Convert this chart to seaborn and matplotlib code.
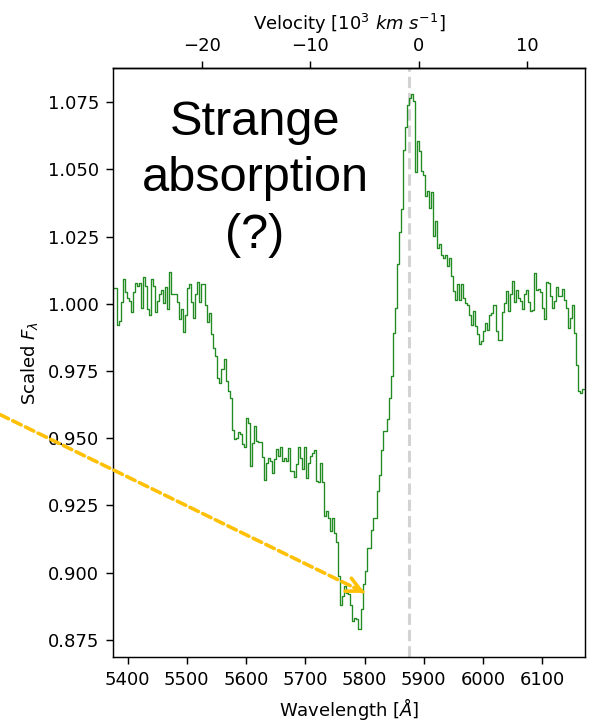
import numpy as np
import pandas as pd
import matplotlib
matplotlib.use("Agg")
import matplotlib.pyplot as plt
import seaborn as sns

# ---- data ----
WAVE_START = 5375.0      # Å, left edge of first bin
WAVE_STEP = 3.4          # Å per bin
flux = [
    1.006, 1.006, 0.992, 0.9935, 1.0006, 1.0093, 1.0043, 1.0022, 1.001, 0.9969,
    1.0043, 1.0078, 1.0066, 1.0078, 0.9985, 1.010, 1.0066, 0.9979, 0.996, 1.0093,
    1.0066, 0.9969, 1.001, 1.0035, 1.0053, 1.0004, 1.0063, 0.9981, 1.0118, 1.0035,
    1.0035, 1.0035, 1.0006, 0.9942, 0.9981, 0.9894, 0.996, 1.006, 1.0072, 1.0006,
    0.9948, 1.0035, 1.008, 1.0006, 1.0072, 1.0072, 0.9997, 0.9932, 0.9967, 0.9886,
    0.9836, 0.9805, 0.9725, 0.9706, 0.9756, 0.9793, 0.9712, 0.9675, 0.965, 0.9532,
    0.9498, 0.950, 0.9522, 0.9517, 0.9477, 0.9468, 0.9576, 0.9557, 0.9396, 0.9483,
    0.9545, 0.9489, 0.9485, 0.9485, 0.9431, 0.9344, 0.9408, 0.9427, 0.9414, 0.9371,
    0.9421, 0.9461, 0.9433, 0.9468, 0.9414, 0.9427, 0.9414, 0.9464, 0.9377, 0.9377,
    0.9356, 0.9406, 0.9468, 0.9427, 0.9386, 0.9468, 0.9353, 0.9408, 0.9433, 0.9446,
    0.9455, 0.934, 0.9336, 0.9408, 0.9336, 0.921, 0.9228, 0.9204, 0.9154, 0.9204,
    0.9148, 0.9113, 0.8987, 0.8881, 0.8912, 0.8949, 0.8925, 0.8919, 0.8881, 0.8819,
    0.8832, 0.8826, 0.8791, 0.8863, 0.8956, 0.9005, 0.9092, 0.9092, 0.916, 0.9204,
    0.9204, 0.9303, 0.9365, 0.9458, 0.9526, 0.9526, 0.957, 0.965, 0.9731, 0.9892,
    0.9985, 1.015, 1.0269, 1.0351, 1.0574, 1.0656, 1.0741, 1.0765, 1.0779, 1.0754,
    1.049, 1.0605, 1.0568, 1.0493, 1.0481, 1.040, 1.0421, 1.0357, 1.0417, 1.0251,
    1.0307, 1.0208, 1.0221, 1.0183, 1.0171, 1.0183, 1.014, 1.0171, 1.0103, 1.0047,
    1.0016, 1.0072, 1.0016, 1.0072, 1.0022, 1.0004, 0.9997, 0.996, 0.9923, 0.9972,
    0.9917, 0.9886, 0.9849, 0.9861, 0.9898, 0.9929, 0.9904, 0.996, 0.9967, 0.9997,
    0.9898, 0.9867, 0.9867, 0.9969, 1.0004, 1.0047, 0.9972, 1.0035, 1.0084, 1.0006,
    1.0053, 1.0022, 1.001, 0.9979, 1.0035, 1.0053, 1.0006, 0.9972, 0.9976, 1.0113,
    1.0053, 1.0056, 1.0043, 0.9985, 0.9944, 1.008, 1.0076, 1.0028, 0.9985, 1.001,
    1.0063, 1.0031, 1.0031, 1.0056, 1.0016, 0.9985, 0.9911, 0.9948, 0.9994, 0.9892,
    0.9774, 0.9675, 0.9669, 0.9684,
]
HE_LINE = 5875.0                 # Å, dashed reference line
VEL_ZERO = 5891.6                # Å at zero velocity
VEL_SCALE = 18.3                 # Å per 10^3 km/s
x_ticks = [5400, 5500, 5600, 5700, 5800, 5900, 6000, 6100]
y_ticks = [0.875, 0.900, 0.925, 0.950, 0.975, 1.000, 1.025, 1.050, 1.075]
vel_ticks = [-20, -10, 0, 10]
x_limits = (5375, 6172)
y_limits = (0.8685, 1.0876)
note_text = "Strange\nabsorption\n(?)"
note_pos = (5615, 1.0465)
arrow_tip = (5800.5, 0.8925)
arrow_tail = (5185, 0.9588)

# ---- style ----
sns.set_style("ticks", {"axes.edgecolor": "black", "xtick.color": "black",
                        "ytick.color": "black", "text.color": "black",
                        "axes.labelcolor": "black"})
plt.rcParams["font.family"] = ["DejaVu Sans"]
plt.rcParams["xtick.major.size"] = 4
plt.rcParams["ytick.major.size"] = 4
plt.rcParams["axes.linewidth"] = 0.8

DPI = 130
fig = plt.figure(figsize=(590 / DPI, 721 / DPI), dpi=DPI)
ax = fig.add_axes([0.191, 0.0883, 0.8005, 0.8169])

wave = WAVE_START + WAVE_STEP * np.arange(len(flux) + 1)
df = pd.DataFrame({"wave": wave, "flux": flux + [flux[-1]]})
sns.lineplot(data=df, x="wave", y="flux", drawstyle="steps-post",
             color="forestgreen", lw=0.75, estimator=None, ax=ax)

ax.axvline(HE_LINE, color="#d3d3d3", ls="--", lw=1.7, zorder=0)

ax.set_xlim(*x_limits)
ax.set_ylim(*y_limits)
ax.set_xticks(x_ticks)
ax.set_yticks(y_ticks)
ax.set_yticklabels([f"{t:.3f}" for t in y_ticks])
ax.set_xlabel(r"Wavelength [$\AA$]", fontsize=10)
ax.set_ylabel(r"Scaled $F_\lambda$", fontsize=10)
ax.tick_params(labelsize=10)

sec = ax.secondary_xaxis("top", functions=(lambda l: (l - VEL_ZERO) / VEL_SCALE,
                                           lambda v: v * VEL_SCALE + VEL_ZERO))
sec.set_xticks(vel_ticks)
sec.set_xlabel(r"Velocity [$10^3$ $km$ $s^{-1}$]", fontsize=10)
sec.tick_params(labelsize=10, length=4)

ax.text(*note_pos, note_text, ha="center", va="center", fontsize=27,
        family=["Liberation Sans", "DejaVu Sans"], linespacing=1.32)

# dashed shaft
ax.annotate("", xy=arrow_tip, xytext=arrow_tail, xycoords="data",
            textcoords="data", annotation_clip=False,
            arrowprops=dict(arrowstyle="-", color="#FFC107",
                            ls=(0, (2.6, 1.3)), lw=2.0,
                            shrinkA=0, shrinkB=0))
# solid head
head_start = (arrow_tip[0] + 0.03 * (arrow_tail[0] - arrow_tip[0]),
              arrow_tip[1] + 0.03 * (arrow_tail[1] - arrow_tip[1]))
ax.annotate("", xy=arrow_tip, xytext=head_start, xycoords="data",
            textcoords="data", annotation_clip=False,
            arrowprops=dict(arrowstyle="->", color="#FFC107", lw=2.0,
                            mutation_scale=20, shrinkA=0, shrinkB=0))

fig.savefig("out.png", dpi=DPI)
